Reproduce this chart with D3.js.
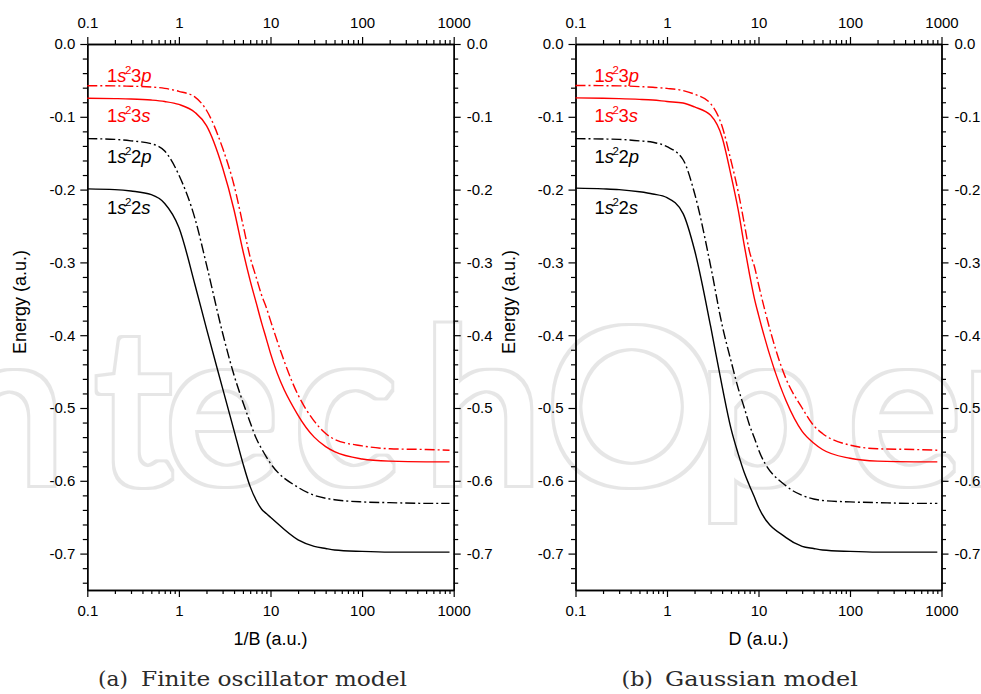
<!DOCTYPE html>
<html><head><meta charset="utf-8">
<script src="https://cdn.jsdelivr.net/npm/d3@7"></script>
<style>
html,body{margin:0;padding:0;background:#fff;}
svg{display:block;}
</style></head>
<body>
<svg id="chart" width="981" height="694"></svg>
<script>
// ---------- data ----------
const xValues = [0.1,0.2,0.3,0.5,0.7,1,1.5,2,3,4,5,6,7,8,9,10,20,30,40,50,100,200,500,900];

// (a) Finite oscillator model, energy vs 1/B
const finite1s22s = [-0.199,-0.200,-0.202,-0.207,-0.219,-0.252,-0.331,-0.391,-0.473,-0.531,-0.576,-0.608,-0.627,-0.639,-0.645,-0.650,-0.681,-0.690,-0.693,-0.695,-0.697,-0.698,-0.698,-0.698];
const finite1s22p = [-0.130,-0.131,-0.133,-0.137,-0.147,-0.180,-0.240,-0.303,-0.397,-0.455,-0.492,-0.520,-0.542,-0.556,-0.567,-0.576,-0.609,-0.620,-0.624,-0.626,-0.629,-0.630,-0.631,-0.631];
const finite1s23s = [-0.0746,-0.075,-0.0755,-0.077,-0.079,-0.083,-0.094,-0.112,-0.170,-0.228,-0.284,-0.325,-0.356,-0.383,-0.405,-0.425,-0.510,-0.540,-0.553,-0.560,-0.570,-0.573,-0.574,-0.574];
const finite1s23p = [-0.0573,-0.0575,-0.058,-0.059,-0.061,-0.065,-0.073,-0.091,-0.143,-0.194,-0.248,-0.293,-0.321,-0.345,-0.362,-0.380,-0.482,-0.518,-0.535,-0.543,-0.552,-0.556,-0.557,-0.558];

// (b) Gaussian model, energy vs D
const gauss1s22s = [-0.198,-0.199,-0.200,-0.203,-0.206,-0.211,-0.233,-0.283,-0.388,-0.470,-0.528,-0.563,-0.589,-0.607,-0.622,-0.636,-0.678,-0.690,-0.693,-0.695,-0.697,-0.698,-0.698,-0.698];
const gauss1s22p = [-0.130,-0.1305,-0.131,-0.133,-0.135,-0.141,-0.159,-0.205,-0.305,-0.386,-0.435,-0.473,-0.500,-0.524,-0.541,-0.557,-0.607,-0.620,-0.625,-0.627,-0.629,-0.630,-0.631,-0.631];
const gauss1s23s = [-0.074,-0.0745,-0.075,-0.076,-0.077,-0.079,-0.081,-0.0865,-0.098,-0.128,-0.180,-0.228,-0.277,-0.317,-0.349,-0.372,-0.490,-0.532,-0.548,-0.557,-0.569,-0.573,-0.574,-0.574];
const gauss1s23p = [-0.057,-0.0572,-0.0575,-0.0585,-0.0595,-0.061,-0.064,-0.069,-0.082,-0.113,-0.160,-0.203,-0.247,-0.286,-0.305,-0.330,-0.460,-0.500,-0.524,-0.535,-0.551,-0.556,-0.557,-0.558];

const xTickValues = [0.1,1,10,100,1000];
const xTickLabels = ["0.1","1","10","100","1000"];
const yTickValues = [0,-0.1,-0.2,-0.3,-0.4,-0.5,-0.6,-0.7];
const yTickLabels = ["0.0","-0.1","-0.2","-0.3","-0.4","-0.5","-0.6","-0.7"];
const xTitles = ["1/B (a.u.)","D (a.u.)"];
const yTitle = "Energy (a.u.)";
const captionTags = ["(a)","(b)"];
const captionTexts = ["Finite oscillator model","Gaussian model"];

// ---------- drawing ----------
const svg = d3.select("#chart");
const RED = "#ff0000";
const DASHDOT = "10,3,2,3";
const SANS = "'Liberation Sans', Arial, Helvetica, sans-serif";
const SERIF = "'DejaVu Serif', 'Liberation Serif', serif";

// watermark (outlined letters via morphology filter)
const defs = svg.append("defs");
const f = defs.append("filter").attr("id","wmOutline")
  .attr("x","-5%").attr("y","-20%").attr("width","110%").attr("height","140%");
f.append("feMorphology").attr("in","SourceAlpha").attr("operator","dilate").attr("radius",4.5).attr("result","outer");
f.append("feMorphology").attr("in","SourceAlpha").attr("operator","dilate").attr("radius",2).attr("result","inner");
f.append("feComposite").attr("in","outer").attr("in2","inner").attr("operator","out").attr("result","ring");
f.append("feFlood").attr("flood-color","#e6e6e6").attr("result","col");
f.append("feComposite").attr("in","col").attr("in2","ring").attr("operator","in");

svg.append("text")
  .attr("x", [-112,-54,95,165,294,423,546,698,848].join(" "))
  .attr("y", 483)
  .attr("font-family","Lato, 'Open Sans', sans-serif")
  .attr("font-weight", 400)
  .attr("font-size", 214)
  .attr("fill","#000")
  .attr("filter","url(#wmOutline)")
  .text("IntechOpen");

const minorTicks = [];
[0.1,1,10,100].forEach(d => { for (let k=2;k<=9;k++) minorTicks.push(d*k); });
const yMinor = d3.range(0, 38).map(i => -i*0.02).filter(v => Math.abs(Math.round(v*100)) % 10 !== 0);

const panels = [
  {x0:87.3, x1:453.7, series:[finite1s22s, finite1s22p, finite1s23s, finite1s23p], labelX:107, yTitleX:20,
   capTagX:98, capTagW:30, capTextX:141, capTextW:266},
  {x0:575.5, x1:941.5, series:[gauss1s22s, gauss1s22p, gauss1s23s, gauss1s23p], labelX:594.5, yTitleX:509,
   capTagX:621.5, capTagW:31.5, capTextX:665, capTextW:193}
];
const styles = [
  {color:"#000", dash:null},
  {color:"#000", dash:DASHDOT},
  {color:RED, dash:null},
  {color:RED, dash:DASHDOT}
];

const yTop = 44, yBot = 590;
const y = d3.scaleLinear().domain([0,-0.75]).range([yTop, yBot]);

function styleAxis(sel) {
  sel.selectAll(".domain").attr("stroke","#000").attr("stroke-width",1.4);
  sel.selectAll(".tick line").attr("stroke","#000").attr("stroke-width",1.2);
  sel.selectAll(".tick text").attr("fill","#000")
    .attr("font-family", SANS)
    .attr("font-size",15);
}
function minorAxis(sel) {
  styleAxis(sel);
  sel.selectAll(".tick text").remove();
}

panels.forEach((p, pi) => {
  const x = d3.scaleLog().domain([0.1,1000]).range([p.x0, p.x1]);
  const g = svg.append("g");

  const fmtX = d => xTickLabels[xTickValues.indexOf(d)];
  const fmtY = d => yTickLabels[yTickValues.findIndex(v => Math.abs(v-d)<1e-9)];

  // bottom axis
  g.append("g").attr("transform",`translate(0,${yBot})`)
    .call(d3.axisBottom(x).tickValues(minorTicks).tickSize(4).tickSizeOuter(0))
    .call(minorAxis);
  g.append("g").attr("transform",`translate(0,${yBot})`)
    .call(d3.axisBottom(x).tickValues(xTickValues).tickSize(7).tickSizeOuter(0).tickPadding(8).tickFormat(fmtX))
    .call(styleAxis);

  // top axis
  g.append("g").attr("transform",`translate(0,${yTop})`)
    .call(d3.axisTop(x).tickValues(minorTicks).tickSize(4).tickSizeOuter(0))
    .call(minorAxis);
  g.append("g").attr("transform",`translate(0,${yTop})`)
    .call(d3.axisTop(x).tickValues(xTickValues).tickSize(7).tickSizeOuter(0).tickPadding(9).tickFormat(fmtX))
    .call(styleAxis);

  // left axis
  g.append("g").attr("transform",`translate(${p.x0},0)`)
    .call(d3.axisLeft(y).tickValues(yMinor).tickSize(4.5).tickSizeOuter(0))
    .call(minorAxis);
  g.append("g").attr("transform",`translate(${p.x0},0)`)
    .call(d3.axisLeft(y).tickValues(yTickValues).tickSize(7).tickSizeOuter(0).tickPadding(5).tickFormat(fmtY))
    .call(styleAxis);

  // right axis
  g.append("g").attr("transform",`translate(${p.x1},0)`)
    .call(d3.axisRight(y).tickValues(yMinor).tickSize(4.5).tickSizeOuter(0))
    .call(minorAxis);
  g.append("g").attr("transform",`translate(${p.x1},0)`)
    .call(d3.axisRight(y).tickValues(yTickValues).tickSize(7).tickSizeOuter(0).tickPadding(6).tickFormat(fmtY))
    .call(styleAxis);

  // curves
  const line = d3.line()
    .x((d,i) => x(xValues[i]))
    .y(d => y(d))
    .curve(d3.curveMonotoneX);
  p.series.forEach((s, si) => {
    g.append("path")
      .datum(s)
      .attr("d", line)
      .attr("fill","none")
      .attr("stroke", styles[si].color)
      .attr("stroke-width",1.4)
      .attr("stroke-dasharray", styles[si].dash);
  });

  // curve labels
  const labels = [
    {n:"3", l:"p", color:RED, y:82},
    {n:"3", l:"s", color:RED, y:122},
    {n:"2", l:"p", color:"#000", y:163},
    {n:"2", l:"s", color:"#000", y:214}
  ];
  labels.forEach(lb => {
    const t = g.append("text")
      .attr("x", p.labelX).attr("y", lb.y)
      .attr("fill", lb.color)
      .attr("font-family", SANS)
      .attr("font-size",18.5);
    t.append("tspan").text("1");
    t.append("tspan").attr("font-style","italic").text("s");
    t.append("tspan").attr("font-size",11.5).attr("dy",-8).attr("dx",-1.5).text("2");
    t.append("tspan").attr("dy",8).attr("dx",-0.5).text(lb.n);
    t.append("tspan").attr("font-style","italic").text(lb.l);
  });

  // axis titles
  g.append("text")
    .attr("x", (p.x0+p.x1)/2).attr("y", 645)
    .attr("text-anchor","middle")
    .attr("font-family", SANS)
    .attr("font-size",18).attr("fill","#000")
    .text(xTitles[pi]);
  g.append("text")
    .attr("transform",`translate(${p.yTitleX},302) rotate(-90)`)
    .attr("text-anchor","middle")
    .attr("dy","0.35em")
    .attr("font-family", SANS)
    .attr("font-size",18).attr("fill","#000")
    .text(yTitle);

  // caption
  g.append("text")
    .attr("x", p.capTagX).attr("y", 686)
    .attr("font-family", SERIF)
    .attr("font-size",21).attr("fill","#2b2b2b")
    .attr("textLength", p.capTagW).attr("lengthAdjust","spacingAndGlyphs")
    .text(captionTags[pi]);
  g.append("text")
    .attr("x", p.capTextX).attr("y", 686)
    .attr("font-family", SERIF)
    .attr("font-size",21).attr("fill","#2b2b2b")
    .attr("textLength", p.capTextW).attr("lengthAdjust","spacingAndGlyphs")
    .text(captionTexts[pi]);
});
</script>
</body></html>
